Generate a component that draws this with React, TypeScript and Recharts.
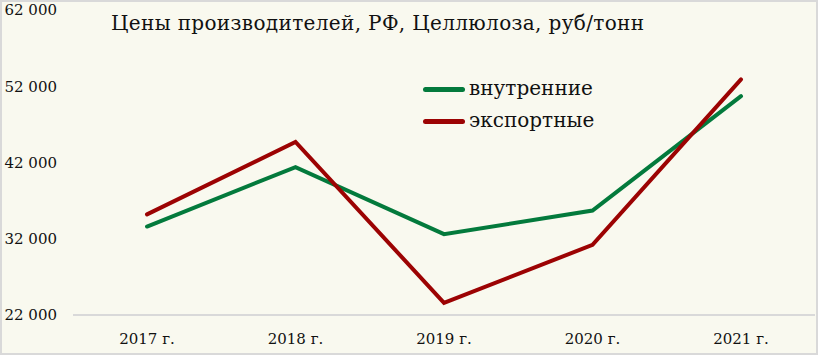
import React from 'react';
import { LineChart, Line, XAxis, YAxis, Legend } from 'recharts';

const years = ['2017 г.', '2018 г.', '2019 г.', '2020 г.', '2021 г.'];
const domestic = [33600, 41400, 32600, 35700, 50700];
const exportPrices = [35200, 44700, 23600, 31200, 52900];
const yTicks = [22000, 32000, 42000, 52000, 62000];

const data = years.map((year, i) => ({
  year,
  domestic: domestic[i],
  exportPrices: exportPrices[i],
}));

const FONT = 'DejaVu Serif';
const GREEN = '#037a3c';
const RED = '#9c0303';

const fmt = (v: number) => String(v).replace(/(\d)(?=(\d{3})+$)/g, '$1 ');

const LegendContent = () => (
  <div style={{ fontFamily: FONT, fontSize: 20, color: '#111' }}>
    {[
      { label: 'внутренние', color: GREEN },
      { label: 'экспортные', color: RED },
    ].map((it) => (
      <div key={it.label} style={{ display: 'flex', alignItems: 'center', height: 32 }}>
        <div style={{ width: 42, height: 5, borderRadius: 3, background: it.color, marginRight: 4 }} />
        <span style={{ fontFamily: FONT, marginTop: -3 }}>{it.label}</span>
      </div>
    ))}
  </div>
);

export default function App() {
  return (
    <div
      style={{
        position: 'absolute',
        left: 0,
        top: 0,
        width: 818,
        height: 355,
        boxSizing: 'border-box',
        border: '2px solid #d9d9d9',
        background: '#f9f9ef',
        fontFamily: FONT,
      }}
    >
      <div
        style={{
          position: 'absolute',
          left: 109,
          top: 9,
          fontSize: 20,
          letterSpacing: 0.35,
          fontFamily: FONT,
          color: '#111',
          whiteSpace: 'nowrap',
        }}
      >
        Цены производителей, РФ, Целлюлоза, руб/тонн
      </div>
      <LineChart width={814} height={351} data={data} margin={{ top: 8, right: 1, bottom: 0, left: 0 }}>
        <XAxis
          dataKey="year"
          padding={{ left: 74, right: 74 }}
          axisLine={{ stroke: '#d9d9d9', strokeWidth: 2 }}
          tickLine={false}
          tickSize={0}
          tickMargin={18}
          height={38}
          tick={{ fill: '#111', fontSize: 15, fontFamily: FONT }}
        />
        <YAxis
          domain={[22000, 62000]}
          ticks={yTicks}
          interval={0}
          axisLine={false}
          tickLine={false}
          tickSize={0}
          tickMargin={16}
          width={71}
          tickFormatter={fmt}
          tick={{ fill: '#111', fontSize: 15, fontFamily: FONT }}
        />
        <Legend
          layout="vertical"
          align="center"
          verticalAlign="middle"
          content={<LegendContent />}
          wrapperStyle={{ left: 421, top: 71, width: 230 }}
        />
        <Line
          dataKey="domestic"
          name="внутренние"
          stroke={GREEN}
          strokeWidth={4}
          strokeLinecap="round"
          dot={false}
          activeDot={false}
          isAnimationActive={false}
        />
        <Line
          dataKey="exportPrices"
          name="экспортные"
          stroke={RED}
          strokeWidth={4}
          strokeLinecap="round"
          dot={false}
          activeDot={false}
          isAnimationActive={false}
        />
      </LineChart>
    </div>
  );
}
